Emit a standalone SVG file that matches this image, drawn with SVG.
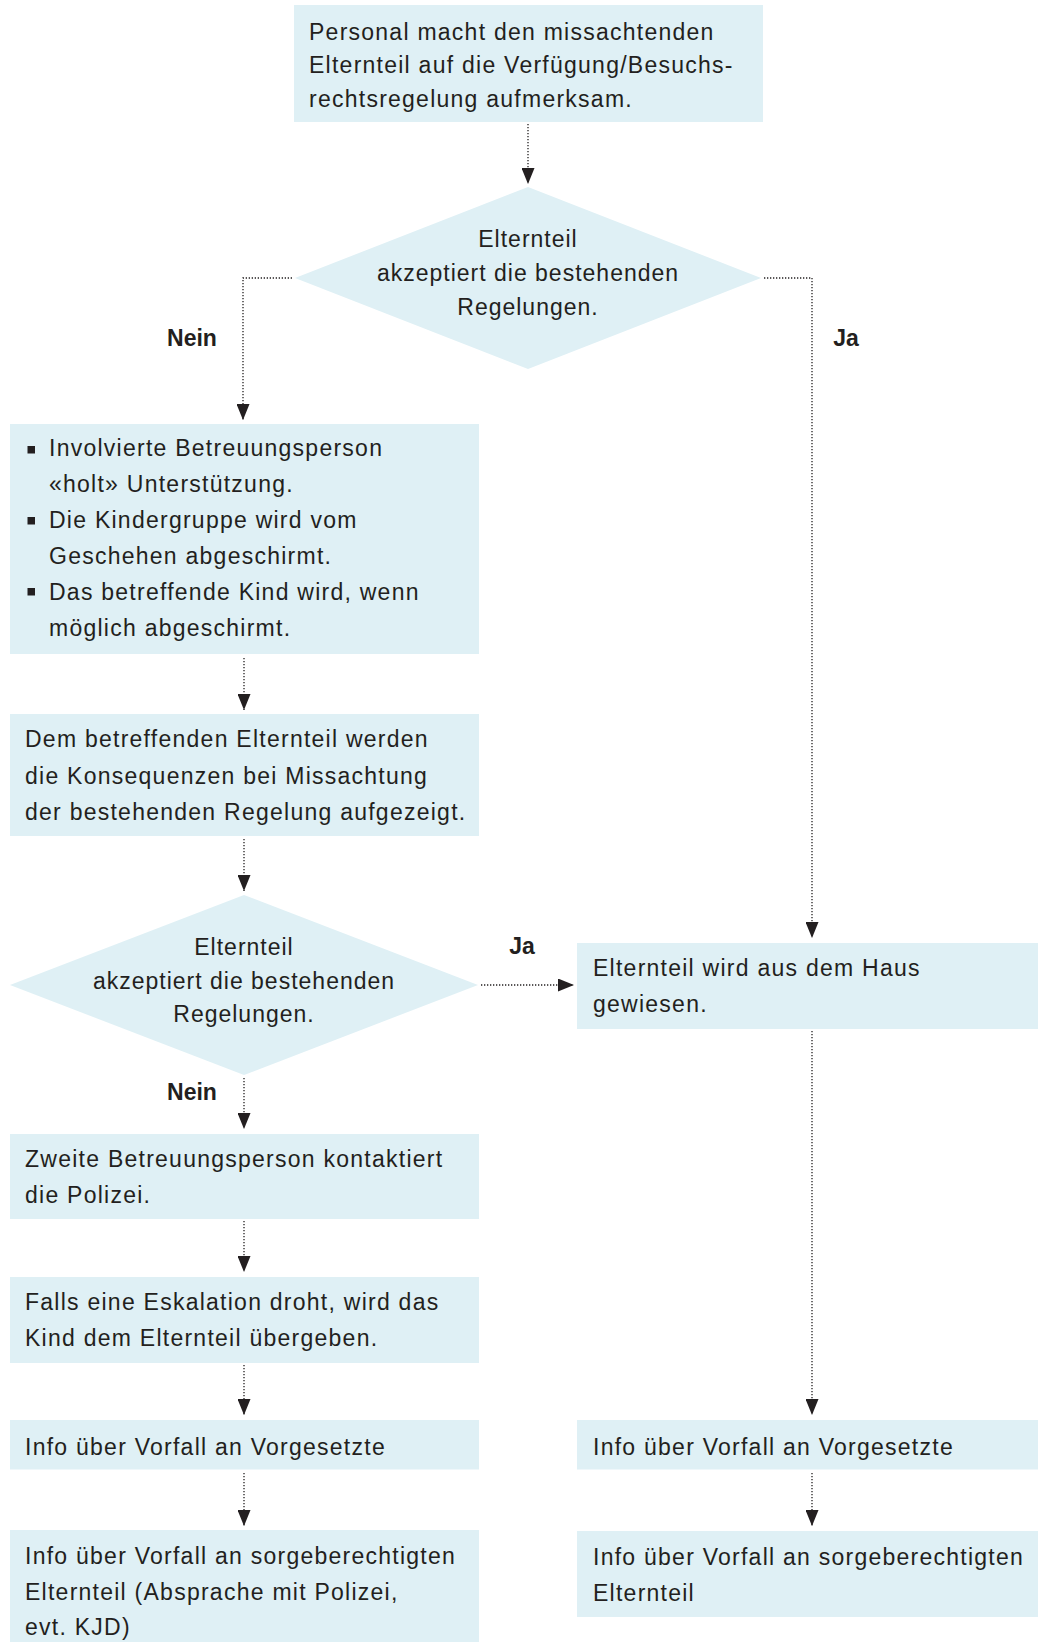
<svg xmlns="http://www.w3.org/2000/svg" width="1038" height="1642" viewBox="0 0 1038 1642">
<defs>
<style>
.box{fill:#dff0f5}
.t{font-family:"Liberation Sans",Arial,sans-serif;font-size:23px;letter-spacing:1.25px;fill:#231f20}
.c{text-anchor:middle;letter-spacing:1px}
.lbl{font-family:"Liberation Sans",Arial,sans-serif;font-size:23px;font-weight:bold;fill:#231f20;text-anchor:middle}
.con{fill:none;stroke:#231f20;stroke-width:1.3;stroke-dasharray:1.3 1.7;marker-end:url(#ah)}
.bul{fill:#231f20}
</style>
<marker id="ah" markerUnits="userSpaceOnUse" viewBox="0 0 16 13" markerWidth="16" markerHeight="13" refX="16" refY="6.5" orient="auto">
<path d="M0,0 L16,6.5 L0,13 z" fill="#231f20"/>
</marker>
</defs>
<rect width="1038" height="1642" fill="#ffffff"/>

<g id="connectors">
<path class="con" d="M528,124 V184"/>
<path class="con" d="M292,278 H243 V420"/>
<path class="con" d="M764,278 H812 V938"/>
<path class="con" d="M244,658 V710"/>
<path class="con" d="M244,839 V891"/>
<path class="con" d="M481,985 H574"/>
<path class="con" d="M244,1078 V1129"/>
<path class="con" d="M244,1221 V1272"/>
<path class="con" d="M244,1365 V1415"/>
<path class="con" d="M244,1473 V1526"/>
<path class="con" d="M812,1031 V1415"/>
<path class="con" d="M812,1473 V1526"/>
</g>

<g id="labels">
<text class="lbl" x="192" y="346">Nein</text>
<text class="lbl" x="846" y="346">Ja</text>
<text class="lbl" x="522" y="954">Ja</text>
<text class="lbl" x="192" y="1100">Nein</text>
</g>

<g id="n1">
<rect class="box" x="294" y="5" width="469" height="117"/>
<text class="t" x="309" y="40">Personal macht den missachtenden</text>
<text class="t" x="309" y="73">Elternteil auf die Verfügung/Besuchs-</text>
<text class="t" x="309" y="107">rechtsregelung aufmerksam.</text>
</g>

<g id="d1">
<polygon class="box" points="528,187 761,278 528,369 295,278"/>
<text class="t c" x="528" y="247">Elternteil</text>
<text class="t c" x="528" y="281">akzeptiert die bestehenden</text>
<text class="t c" x="528" y="315">Regelungen.</text>
</g>

<g id="n2">
<rect class="box" x="10" y="424" width="469" height="230"/>
<rect class="bul" x="27.5" y="446" width="7.5" height="7.5"/>
<rect class="bul" x="27.5" y="517" width="7.5" height="7.5"/>
<rect class="bul" x="27.5" y="588" width="7.5" height="7.5"/>
<text class="t" x="49" y="456">Involvierte Betreuungsperson</text>
<text class="t" x="49" y="492">«holt» Unterstützung.</text>
<text class="t" x="49" y="528">Die Kindergruppe wird vom</text>
<text class="t" x="49" y="564">Geschehen abgeschirmt.</text>
<text class="t" x="49" y="600">Das betreffende Kind wird, wenn</text>
<text class="t" x="49" y="636">möglich abgeschirmt.</text>
</g>

<g id="n3">
<rect class="box" x="10" y="714" width="469" height="122"/>
<text class="t" x="25" y="747">Dem betreffenden Elternteil werden</text>
<text class="t" x="25" y="783.5">die Konsequenzen bei Missachtung</text>
<text class="t" x="25" y="820">der bestehenden Regelung aufgezeigt.</text>
</g>

<g id="d2">
<polygon class="box" points="244,895 478,985 244,1075 10,985"/>
<text class="t c" x="244" y="955">Elternteil</text>
<text class="t c" x="244" y="989">akzeptiert die bestehenden</text>
<text class="t c" x="244" y="1022">Regelungen.</text>
</g>

<g id="r1">
<rect class="box" x="577" y="943" width="461" height="86"/>
<text class="t" x="593" y="975.5">Elternteil wird aus dem Haus</text>
<text class="t" x="593" y="1011.5">gewiesen.</text>
</g>

<g id="n4">
<rect class="box" x="10" y="1134" width="469" height="85"/>
<text class="t" x="25" y="1167">Zweite Betreuungsperson kontaktiert</text>
<text class="t" x="25" y="1202.5">die Polizei.</text>
</g>

<g id="n5">
<rect class="box" x="10" y="1277" width="469" height="86"/>
<text class="t" x="25" y="1310">Falls eine Eskalation droht, wird das</text>
<text class="t" x="25" y="1346">Kind dem Elternteil übergeben.</text>
</g>

<g id="n6">
<rect class="box" x="10" y="1420" width="469" height="49.5"/>
<text class="t" x="25" y="1455">Info über Vorfall an Vorgesetzte</text>
</g>

<g id="n7">
<rect class="box" x="10" y="1530" width="469" height="112"/>
<text class="t" x="25" y="1564">Info über Vorfall an sorgeberechtigten</text>
<text class="t" x="25" y="1600">Elternteil (Absprache mit Polizei,</text>
<text class="t" x="25" y="1635">evt. KJD)</text>
</g>

<g id="r2">
<rect class="box" x="577" y="1420" width="461" height="49.5"/>
<text class="t" x="593" y="1454.5">Info über Vorfall an Vorgesetzte</text>
</g>

<g id="r3">
<rect class="box" x="577" y="1531" width="461" height="86"/>
<text class="t" x="593" y="1565">Info über Vorfall an sorgeberechtigten</text>
<text class="t" x="593" y="1601">Elternteil</text>
</g>
</svg>
